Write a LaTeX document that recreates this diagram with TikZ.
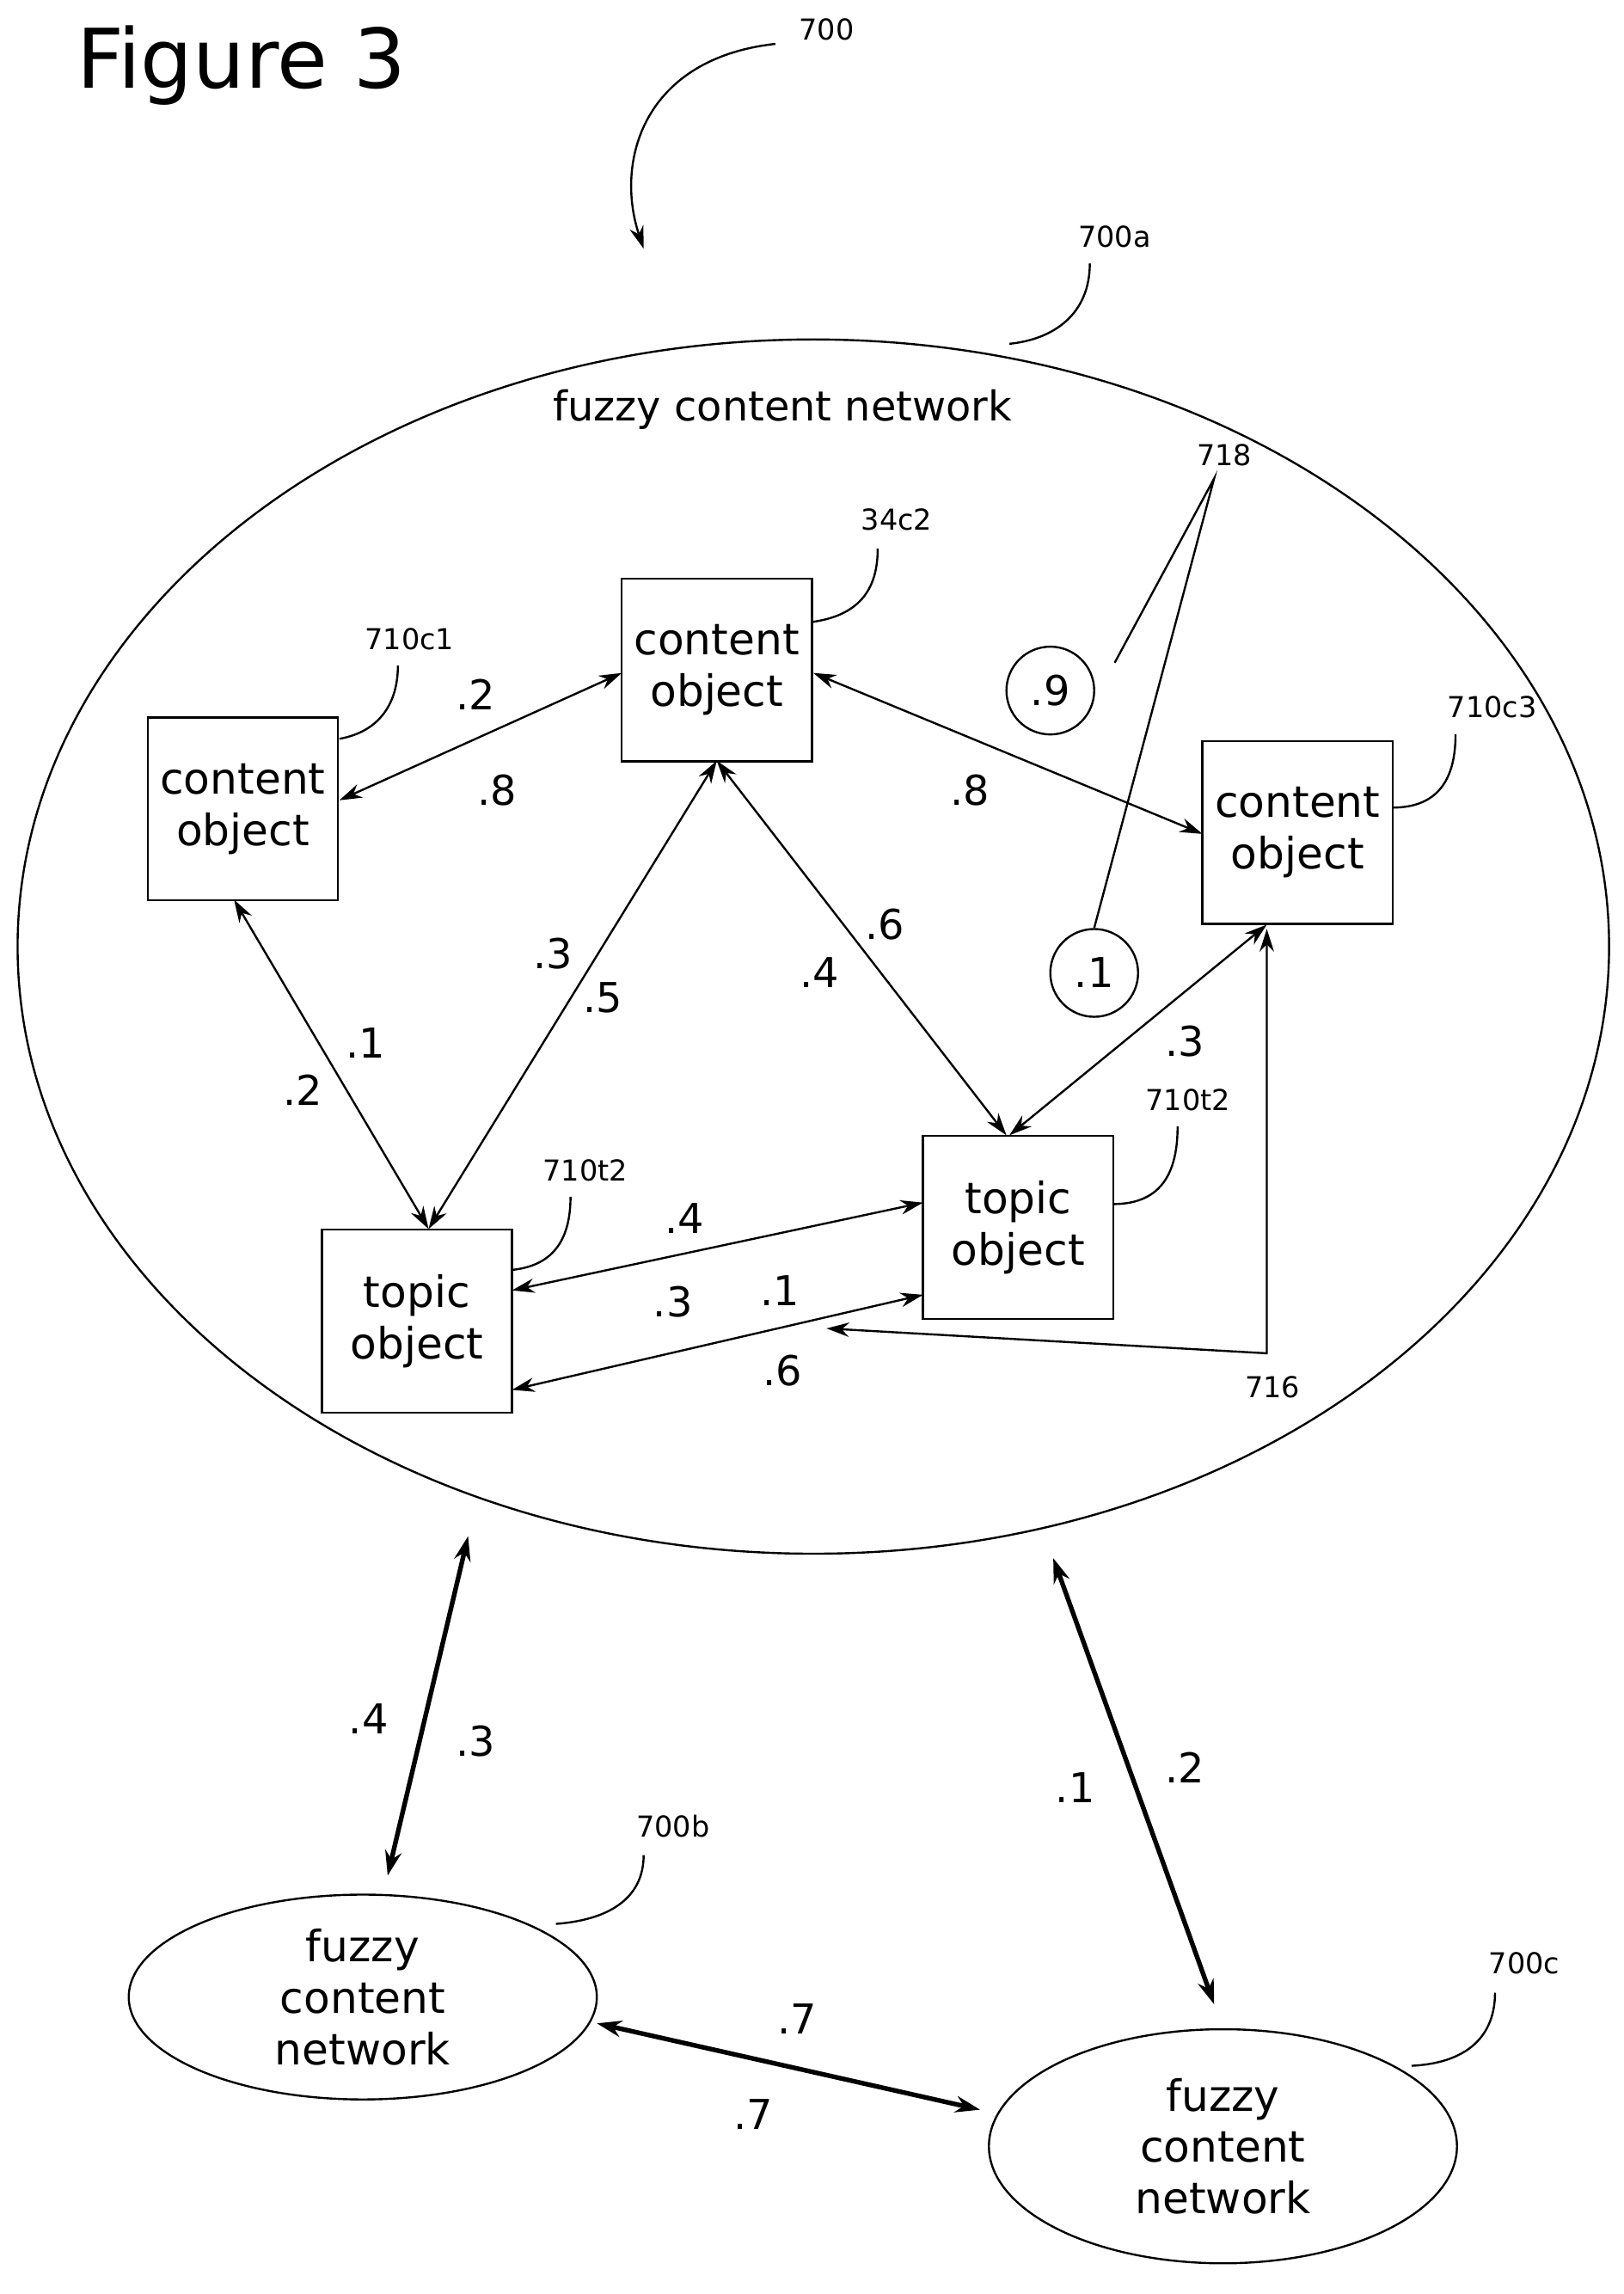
\documentclass[tikz,border=0pt]{standalone}
\usepackage{fontspec}
\setmainfont{DejaVu Sans}
\usetikzlibrary{arrows.meta,shapes.geometric}
\begin{document}
\begin{tikzpicture}[x=0.05cm,y=-0.05cm,
  box/.style={draw,line width=2pt,align=center,font=\fontsize{42}{50}\selectfont,minimum width=6.5cm,minimum height=6.25cm,inner sep=0},
  lab/.style={font=\fontsize{40}{48}\selectfont},
  ref/.style={font=\fontsize{28}{34}\selectfont},
  ln/.style={line width=2pt},
  da/.style={line width=2pt,{Stealth[length=22pt,width=14pt]}-{Stealth[length=22pt,width=14pt]}},
  tda/.style={line width=4.5pt,{Stealth[length=24pt,width=16pt]}-{Stealth[length=24pt,width=16pt]}},
  fcn/.style={draw,ellipse,line width=2pt,align=center,font=\fontsize{42}{50}\selectfont}]
\useasboundingbox (0,0) rectangle (1110,1568);
\node (fig) at (165,45) {\fontsize{80}{90}\selectfont Figure 3};
\node[ref] (l700) at (565,20) {700};
\coordinate (a0) at (530,30);
\coordinate (a1) at (440,170);
\draw[ln,-{Stealth[length=22pt,width=14pt]}] (a0) .. controls (440,40) and (420,110) .. (a1);
\node[draw,ellipse,line width=2pt,minimum width=54.4cm,minimum height=41.5cm] (big) at (556,647) {};
\node[lab] (fcnt) at (535,280) {fuzzy content network};
\node[ref] (l700a) at (762,162) {700a};
\draw[ln] (745,180) .. controls (745,215) and (720,232) .. (690,235);
\node[box] (c1) at (166,553) {content\\object};
\node[box] (c2) at (490,458) {content\\object};
\node[box] (c3) at (887,569) {content\\object};
\node[box] (t1) at (285,903) {topic\\object};
\node[box] (t2) at (696,839) {topic\\object};
\node[draw,circle,line width=2pt,minimum size=3cm,inner sep=0,lab] (p9) at (718,472) {.9};
\node[draw,circle,line width=2pt,minimum size=3cm,inner sep=0,lab] (p1) at (748,665) {.1};
\node[ref] (l718) at (837,311) {718};
\draw[ln] (762,453) -- (830,327) -- (p1.north);
\node[ref] (l710c1) at (280,437) {710c1};
\draw[ln] (232,505) .. controls (260,500) and (272,480) .. (272,455);
\node[ref] (l34c2) at (613,355) {34c2};
\draw[ln] (556,425) .. controls (590,420) and (600,400) .. (600,375);
\node[ref] (l710c3) at (1020,483) {710c3};
\draw[ln] (952,552) .. controls (985,552) and (995,530) .. (995,502);
\node[ref] (l710t2a) at (400,800) {710t2};
\draw[ln] (350,868) .. controls (380,865) and (390,845) .. (390,818);
\node[ref] (l710t2b) at (812,752) {710t2};
\draw[ln] (761,823) .. controls (795,823) and (805,800) .. (805,770);
\draw[da] (232,547) -- (425,460);
\node[lab] at (325,475) {.2}; \node[lab] at (340,540) {.8};
\draw[da] (556,460) -- (822,570);
\node[lab] at (663,540) {.8};
\draw[da] (160,615) -- (293,840);
\node[lab] at (250,713) {.1}; \node[lab] at (207,745) {.2};
\draw[da] (490,520) -- (293,840);
\node[lab] at (378,652) {.3}; \node[lab] at (412,682) {.5};
\draw[da] (490,520) -- (688,776);
\node[lab] at (605,632) {.6}; \node[lab] at (560,665) {.4};
\draw[da] (866,632) -- (690,776);
\node[lab] at (810,712) {.3};
\draw[da] (350,882) -- (631,822);
\node[lab] at (468,833) {.4}; \node[lab] at (460,890) {.3};
\draw[da] (350,950) -- (631,885);
\node[lab] at (533,882) {.1}; \node[lab] at (535,937) {.6};
\coordinate (e716) at (565,908);
\draw[da] (e716) -- (866,925) -- (866,635);
\node[ref] (l716) at (870,948) {716};
\node[fcn,minimum width=16cm,minimum height=7cm] (fb) at (248,1365) {fuzzy\\content\\network};
\node[fcn,minimum width=16cm,minimum height=8cm] (fc) at (836,1467) {fuzzy\\content\\network};
\draw[tda] (320,1050) -- (265,1282);
\node[lab] at (252,1175) {.4}; \node[lab] at (325,1190) {.3};
\draw[tda] (720,1065) -- (830,1370);
\node[lab] at (735,1222) {.1}; \node[lab] at (810,1208) {.2};
\draw[tda] (408,1383) -- (670,1442);
\node[lab] at (545,1380) {.7}; \node[lab] at (515,1445) {.7};
\node[ref] (l700b) at (460,1248) {700b};
\draw[ln] (380,1315) .. controls (420,1312) and (440,1295) .. (440,1268);
\node[ref] (l700c) at (1042,1342) {700c};
\draw[ln] (965,1412) .. controls (1005,1410) and (1022,1390) .. (1022,1362);
\end{tikzpicture}
\end{document}
